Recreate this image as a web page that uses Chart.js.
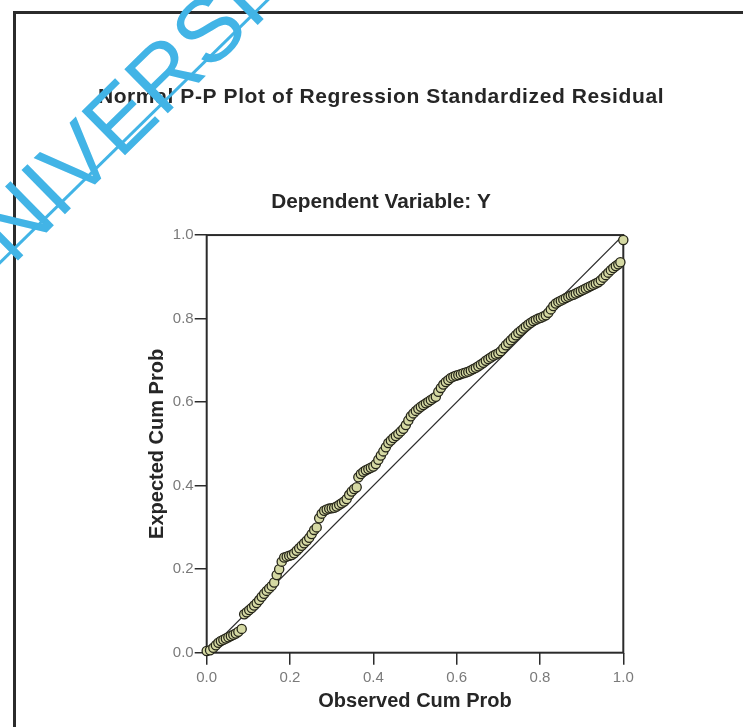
<!DOCTYPE html>
<html>
<head>
<meta charset="utf-8">
<title>Normal P-P Plot of Regression Standardized Residual</title>
<script src="https://cdn.jsdelivr.net/npm/chart.js@4.4.1/dist/chart.umd.min.js"></script>
<style>
  html, body { margin: 0; padding: 0; background: #fff; }
  #wrap { position: relative; width: 743px; height: 727px; overflow: hidden; background: #fff; }
  #frame {
    position: absolute; left: 13px; top: 11px; width: 800px; height: 800px;
    border-top: 3px solid #2b2b2b; border-left: 3px solid #2b2b2b;
  }
  #ppChart { position: absolute; left: 0; top: 0; }
  /* watermark on top of the page */
  #wmText {
    position: absolute; left: -86.7px; top: 257.2px;
    font-family: "Liberation Sans", Arial, sans-serif; font-size: 90px; line-height: 1;
    color: #42b4e6; white-space: nowrap;
    transform-origin: 0 0; transform: rotate(-44.5deg);
  }
  #wmLine {
    position: absolute; left: -10px; top: 271.3px; width: 395px; height: 3px;
    background: #42b4e6; transform-origin: 0 50%; transform: rotate(-44.46deg);
  }
</style>
</head>
<body>
<div id="wrap">
  <div id="frame"></div>
  <canvas id="ppChart" width="743" height="727"></canvas>
  <div id="wmText">UNIVERSITY</div>
  <div id="wmLine"></div>
</div>
<script>
// ---------- Data ----------
var obsX = [
  0.000, 0.008, 0.016, 0.022, 0.028, 0.034, 0.040, 0.046, 0.052, 0.058,
  0.064, 0.070, 0.076, 0.084, 0.090, 0.096, 0.102, 0.108, 0.114, 0.120,
  0.126, 0.132, 0.138, 0.144, 0.150, 0.156, 0.162, 0.168, 0.174, 0.180,
  0.186, 0.192, 0.198, 0.204, 0.210, 0.216, 0.222, 0.228, 0.234, 0.240,
  0.246, 0.252, 0.258, 0.264, 0.270, 0.276, 0.282, 0.288, 0.294, 0.300,
  0.306, 0.312, 0.318, 0.324, 0.330, 0.336, 0.342, 0.348, 0.354, 0.360,
  0.364, 0.370, 0.376, 0.382, 0.388, 0.394, 0.400, 0.406, 0.412, 0.418,
  0.424, 0.430, 0.436, 0.442, 0.448, 0.454, 0.460, 0.466, 0.472, 0.478,
  0.484, 0.490, 0.496, 0.502, 0.508, 0.514, 0.520, 0.526, 0.532, 0.538,
  0.544, 0.550, 0.556, 0.562, 0.568, 0.574, 0.580, 0.586, 0.592, 0.598,
  0.604, 0.610, 0.616, 0.622, 0.628, 0.634, 0.640, 0.646, 0.652, 0.658,
  0.664, 0.670, 0.676, 0.682, 0.688, 0.694, 0.700, 0.706, 0.712, 0.718,
  0.724, 0.730, 0.736, 0.742, 0.748, 0.754, 0.760, 0.766, 0.772, 0.778,
  0.784, 0.790, 0.796, 0.802, 0.808, 0.814, 0.820, 0.826, 0.832, 0.838,
  0.844, 0.850, 0.856, 0.862, 0.868, 0.874, 0.880, 0.886, 0.892, 0.898,
  0.904, 0.910, 0.916, 0.922, 0.928, 0.934, 0.940, 0.946, 0.952, 0.958,
  0.964, 0.970, 0.976, 0.982, 0.988, 0.993, 1.000
];
var expY = [
  0.004, 0.006, 0.012, 0.018, 0.024, 0.028, 0.031, 0.034, 0.037, 0.040,
  0.043, 0.046, 0.050, 0.057, 0.092, 0.097, 0.102, 0.107, 0.113, 0.119,
  0.126, 0.134, 0.141, 0.148, 0.154, 0.160, 0.168, 0.186, 0.200, 0.218,
  0.228, 0.230, 0.232, 0.234, 0.238, 0.244, 0.250, 0.256, 0.262, 0.268,
  0.275, 0.284, 0.294, 0.300, 0.322, 0.333, 0.340, 0.343, 0.345, 0.346,
  0.347, 0.350, 0.354, 0.358, 0.362, 0.368, 0.378, 0.386, 0.392, 0.396,
  0.420, 0.428, 0.433, 0.437, 0.440, 0.443, 0.446, 0.452, 0.462, 0.472,
  0.482, 0.492, 0.502, 0.508, 0.514, 0.519, 0.524, 0.530, 0.536, 0.545,
  0.556, 0.566, 0.573, 0.579, 0.584, 0.589, 0.593, 0.597, 0.601, 0.605,
  0.609, 0.613, 0.625, 0.634, 0.642, 0.648, 0.653, 0.658, 0.661, 0.663,
  0.665, 0.667, 0.669, 0.671, 0.673, 0.676, 0.679, 0.682, 0.686, 0.690,
  0.694, 0.699, 0.703, 0.707, 0.711, 0.714, 0.717, 0.722, 0.729, 0.736,
  0.742, 0.748, 0.754, 0.760, 0.766, 0.771, 0.776, 0.781, 0.786, 0.790,
  0.794, 0.797, 0.800, 0.802, 0.805, 0.808, 0.814, 0.822, 0.830, 0.836,
  0.840, 0.843, 0.846, 0.849, 0.852, 0.855, 0.857, 0.860, 0.863, 0.866,
  0.869, 0.872, 0.875, 0.878, 0.881, 0.884, 0.887, 0.892, 0.898, 0.904,
  0.910, 0.916, 0.921, 0.926, 0.930, 0.935, 0.988
];
// reference diagonal
var diagX = [0, 1];
var diagY = [0, 1];
var tickLabels = ['0.0', '0.2', '0.4', '0.6', '0.8', '1.0'];

// ---------- Build point lists ----------
var ppPoints = obsX.map(function(x, i) { return { x: x, y: expY[i] }; });
var diagPoints = diagX.map(function(x, i) { return { x: x, y: diagY[i] }; });

Chart.defaults.font.family = '"Liberation Sans", Arial, sans-serif';

// Box round the plot area, and a wider letter spacing for the main title
var plotFrame = {
    id: 'plotFrame',
    beforeDraw: function(chart) {
        var tb = chart.titleBlock;
        if (tb && !tb._spaced) {
            var draw = tb.draw.bind(tb);
            tb.draw = function() {
                // title is wider than its box, so widen the box while drawing
                var ctx = chart.ctx;
                var l = tb.left, r = tb.right;
                tb.left = l - 80;
                tb.right = r + 80;
                ctx.save();
                ctx.letterSpacing = '0.6px';
                draw();
                ctx.restore();
                tb.left = l;
                tb.right = r;
            };
            tb._spaced = true;
        }
    },
    beforeDatasetsDraw: function(chart) {
        var a = chart.chartArea;
        var ctx = chart.ctx;
        ctx.save();
        ctx.strokeStyle = '#2b2b2b';
        ctx.lineWidth = 2;
        ctx.strokeRect(a.left, a.top, a.right - a.left, a.bottom - a.top);
        ctx.restore();
    }
};

var tickFont = { size: 15 };
var axisTitleFont = { size: 20, weight: 'bold' };

new Chart(document.getElementById('ppChart'), {
    type: 'scatter',
    data: {
        datasets: [{
            label: 'Residual',
            data: ppPoints,
            pointRadius: 4.6,
            pointBackgroundColor: '#d5d9a3',
            pointBorderColor: '#26261a',
            pointBorderWidth: 1.3,
            clip: false,
            order: 0
        }, {
            type: 'line',
            label: 'Diagonal',
            data: diagPoints,
            borderColor: '#2b2b2b',
            borderWidth: 1.2,
            pointRadius: 0,
            fill: false,
            order: 1
        }]
    },
    options: {
        responsive: false,
        animation: false,
        layout: { padding: { left: 138.7, right: 119.7, top: 0, bottom: 0 } },
        plugins: {
            legend: { display: false },
            tooltip: { enabled: false },
            title: {
                display: true,
                text: 'Normal P-P Plot of Regression Standardized Residual',
                color: '#262626',
                font: { size: 21, weight: 'bold' },
                padding: { top: 84.4, bottom: 0 }
            },
            subtitle: {
                display: true,
                text: 'Dependent Variable: Y',
                color: '#262626',
                font: { size: 20.8, weight: 'bold' },
                padding: { top: 80.0, bottom: 20.5 }
            }
        },
        scales: {
            x: {
                type: 'linear',
                min: 0,
                max: 1,
                afterFit: function(scale) { scale.height = 74.3; },
                border: { display: false },
                grid: { drawOnChartArea: false, drawTicks: true, tickLength: 12, color: '#2b2b2b', lineWidth: 1.5 },
                ticks: {
                    stepSize: 0.2,
                    padding: 4,
                    color: '#7a7a7a',
                    font: tickFont,
                    callback: function(value, index) { return tickLabels[index]; }
                },
                title: {
                    display: true,
                    text: 'Observed Cum Prob',
                    color: '#262626',
                    font: axisTitleFont,
                    padding: { top: 0, bottom: 14 }
                }
            },
            y: {
                type: 'linear',
                min: 0,
                max: 1,
                afterFit: function(scale) { scale.width = 68; },
                border: { display: false },
                grid: { drawOnChartArea: false, drawTicks: true, tickLength: 12, color: '#2b2b2b', lineWidth: 1.5 },
                ticks: {
                    stepSize: 0.2,
                    padding: 1,
                    color: '#7a7a7a',
                    font: tickFont,
                    callback: function(value, index) { return tickLabels[index]; }
                },
                title: {
                    display: true,
                    text: 'Expected Cum Prob',
                    color: '#262626',
                    font: axisTitleFont,
                    padding: { top: 6.3, bottom: 0 }
                }
            }
        }
    },
    plugins: [plotFrame]
});
</script>
</body>
</html>
